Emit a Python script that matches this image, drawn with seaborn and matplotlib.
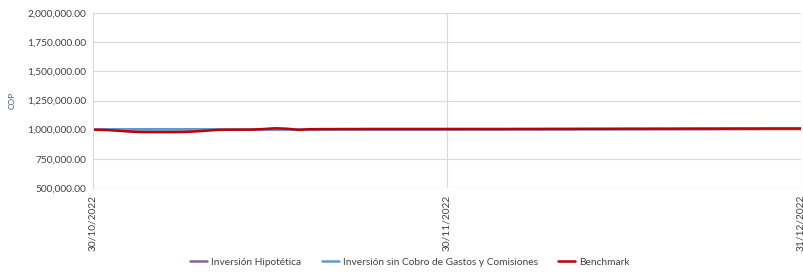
import matplotlib.pyplot as plt
import matplotlib.ticker as mticker
import pandas as pd
import seaborn as sns

# --- Datos (valores diarios) ---
fechas = pd.date_range("2022-10-30", "2022-12-31", freq="D")

benchmark = [
    1000000, 998000, 992000, 985000, 980000, 979000, 979000, 979000, 980000, 985000,
    992000, 999000, 1000000, 1000000, 1001000, 1006000, 1012000, 1008000, 999000, 1004000,
    1005000, 1005000, 1005500, 1005500, 1006000, 1006000, 1006000, 1006000, 1006000, 1006000,
    1006000, 1006000, 1006000, 1006000, 1006000, 1006000, 1006000, 1006500, 1006500, 1006500,
    1007000, 1007000, 1007000, 1007500, 1007500, 1007500, 1008000, 1008000, 1008000, 1008500,
    1008500, 1008500, 1009000, 1009000, 1009000, 1009000, 1009500, 1009500, 1009500, 1010000,
    1010000, 1010000, 1010000,
]
sin_gastos = [
    1000000, 1002000, 1003500, 1003500, 1003500, 1003500, 1003500, 1003500, 1003500, 1003500,
    1003000, 1001000, 1000000, 1000000, 1000000, 1001000, 1003000, 1001000, 999000, 1001000,
    1001000, 1001500, 1001500, 1002000, 1002000, 1002000, 1002000, 1002000, 1002000, 1002000,
    1002000, 1002500, 1002500, 1002500, 1003000, 1003000, 1003000, 1003500, 1003500, 1004000,
    1004000, 1004000, 1004500, 1004500, 1005000, 1005000, 1005000, 1005500, 1005500, 1006000,
    1006000, 1006000, 1006500, 1006500, 1007000, 1007000, 1007000, 1007500, 1007500, 1008000,
    1008000, 1008000, 1008000,
]
hipotetica = [
    1000000, 1001500, 1002500, 1002500, 1002500, 1002500, 1002500, 1002500, 1002500, 1002000,
    1002000, 1000500, 999500, 999500, 999500, 1000500, 1002000, 1000500, 998500, 1000000,
    1000000, 1000500, 1000500, 1001000, 1001000, 1001000, 1001000, 1001000, 1001000, 1001000,
    1001000, 1001500, 1001500, 1001500, 1002000, 1002000, 1002000, 1002500, 1002500, 1002500,
    1003000, 1003000, 1003000, 1003500, 1003500, 1003500, 1004000, 1004000, 1004000, 1004500,
    1004500, 1004500, 1005000, 1005000, 1005000, 1005500, 1005500, 1005500, 1006000, 1006000,
    1006000, 1006000, 1006000,
]

series = ["Inversión Hipotética", "Inversión sin Cobro de Gastos y Comisiones", "Benchmark"]
colores = ["#8064A2", "#5B9BD5", "#C00000"]
anchos = [1.6, 1.8, 1.8]

marcas_x = pd.to_datetime(["2022-10-30", "2022-11-30", "2022-12-31"])
etiquetas_x = ["30/10/2022", "30/11/2022", "31/12/2022"]
marcas_y = [500000, 750000, 1000000, 1250000, 1500000, 1750000, 2000000]

df = pd.DataFrame({
    "Fecha": list(fechas) * 3,
    "Valor": hipotetica + sin_gastos + benchmark,
    "Serie": [series[0]] * len(fechas) + [series[1]] * len(fechas) + [series[2]] * len(fechas),
})

# --- Estilo ---
sns.set_theme(style="white")
plt.rcParams["font.family"] = ["Lato", "DejaVu Sans"]

fig = plt.figure(figsize=(8.04, 2.74), dpi=100)
ax = fig.add_axes([93 / 804, 1 - 188 / 274, (801 - 93) / 804, (188 - 13) / 274])

sns.lineplot(
    data=df, x="Fecha", y="Valor", hue="Serie", hue_order=series,
    palette=colores, ax=ax, legend=False,
)
for linea, lw in zip(ax.get_lines(), anchos):
    linea.set_linewidth(lw)

ax.set_xlim(fechas[0], fechas[-1])
ax.set_ylim(500000, 2000000)
ax.set_yticks(marcas_y)
ax.yaxis.set_major_formatter(mticker.StrMethodFormatter("{x:,.2f}"))
ax.set_xticks(marcas_x)
ax.set_xticklabels(etiquetas_x, rotation=90, va="top")
ax.tick_params(axis="both", labelsize=7.3, colors="#404040", length=0, pad=5)
ax.grid(True, color="#D9D9D9", linewidth=0.8)
ax.set_axisbelow(True)

for lado in ["top", "right", "bottom"]:
    ax.spines[lado].set_visible(False)
ax.spines["left"].set_color("#D9D9D9")
ax.spines["left"].set_linewidth(0.8)

ax.set_xlabel("")
ax.set_ylabel("COP", fontsize=6, color="#44546A", labelpad=8)

manijas = [plt.Line2D([], [], color=c, lw=1.8) for c in colores]
fig.legend(
    manijas, series, loc="center", bbox_to_anchor=(410 / 804, 1 - 262 / 274),
    ncol=3, frameon=False, fontsize=7.3, handlelength=1.7, handletextpad=0.4,
    columnspacing=2.0, labelcolor="#404040",
)

fig.savefig("out.png", dpi=100)
